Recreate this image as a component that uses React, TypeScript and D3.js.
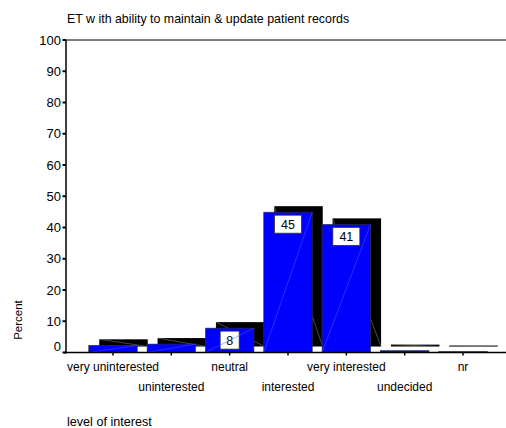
import React from "react";
import * as d3 from "d3";

const title = "ET w ith ability to maintain & update patient records";
const categories = ["very uninterested", "uninterested", "neutral", "interested", "very interested", "undecided", "nr"];
const values = [2.3, 2.7, 7.8, 44.9, 41.0, 0.6, 0.3];
const yTicks = [0, 10, 20, 30, 40, 50, 60, 70, 80, 90, 100];
const xTitle = "level of interest";
const yTitle = "Percent";

const W = 506;
const H = 428;
const FONT = "'Liberation Sans', Arial, sans-serif";

export default function App() {
  const y = d3.scaleLinear().domain([0, 100]).range([352.5, 40]);
  const x = d3.scalePoint<string>().domain(categories).range([113, 463]);
  const bw = 48.5;
  const dx = 10.5;
  const dy = 6;
  const base = y(0);

  return (
    <svg width={W} height={H} style={{ position: "absolute", left: 0, top: 0, background: "#fff" }} fontFamily={FONT}>
      <rect x={0} y={0} width={W} height={H} fill="#fff" />
      <text x={67} y={23} fontSize={12.4} fill="#000">{title}</text>

      {/* frame */}
      <line x1={66} x2={W} y1={40} y2={40} stroke="#000" strokeWidth={1} />

      {/* back faces */}
      {categories.map((c, i) => {
        const x0 = (x(c) as number) - bw / 2 + dx;
        const top = y(values[i]) - dy;
        const bot = base - dy;
        return (
          <g key={"b" + i}>
            <rect x={x0} y={top} width={bw} height={Math.max(bot - top, 1)} fill="#000" />
            <line x1={x0} y1={top} x2={x0 + bw} y2={bot} stroke="#777" strokeWidth={0.6} />
          </g>
        );
      })}

      {/* front faces */}
      {categories.map((c, i) => {
        const x0 = (x(c) as number) - bw / 2;
        const top = y(values[i]);
        return (
          <rect key={"f" + i} x={x0} y={top} width={bw} height={Math.max(base - top, 0.8)} fill="#0000ff" stroke="#333" strokeWidth={0.6} />
        );
      })}

      {/* value labels */}
      {categories.map((c, i) => {
        if (values[i] < 5) return null;
        const label = String(Math.round(values[i]));
        const cx = x(c) as number;
        const top = y(values[i]);
        const bwid = label.length > 1 ? 27 : 19;
        const bh = 18;
        return (
          <g key={"l" + i}>
            <rect x={cx - bwid / 2} y={top + 3} width={bwid} height={bh} fill="#fff" stroke="#333" strokeWidth={0.8} />
            <text x={cx} y={top + 3 + bh / 2 + 4.5} textAnchor="middle" fontSize={12.5} fill="#000">{label}</text>
          </g>
        );
      })}

      {/* front diagonal highlights */}
      {categories.map((c, i) => {
        if (values[i] < 1) return null;
        const x0 = (x(c) as number) - bw / 2;
        const top = y(values[i]);
        return <line key={"d" + i} x1={x0} y1={base} x2={x0 + bw} y2={top} stroke="#5a5aff" strokeWidth={0.5} />;
      })}

      {/* axes */}
      <line x1={66} x2={66} y1={40} y2={353.5} stroke="#000" strokeWidth={1.5} />
      <line x1={64} x2={W} y1={base} y2={base} stroke="#000" strokeWidth={1.5} />
      {yTicks.map((t) => (
        <g key={"yt" + t}>
          <line x1={62.5} x2={66} y1={y(t)} y2={y(t)} stroke="#000" strokeWidth={2} />
          <text x={61} y={(t === 0 ? y(t) - 6 : y(t)) + 4.5} textAnchor="end" fontSize={13} fill="#000">{t}</text>
        </g>
      ))}
      {categories.map((c, i) => (
        <g key={"xt" + i}>
          <line x1={x(c) as number} x2={x(c) as number} y1={base} y2={base + 3} stroke="#000" strokeWidth={1.5} />
          <text x={x(c) as number} y={i % 2 === 0 ? 370.5 : 391} textAnchor="middle" fontSize={12} fill="#000">{c}</text>
        </g>
      ))}
      <text x={67} y={426} fontSize={12.6} fill="#000">{xTitle}</text>
      <text transform="translate(22,320) rotate(-90)" textAnchor="middle" fontSize={11.5} fill="#000">{yTitle}</text>
    </svg>
  );
}
